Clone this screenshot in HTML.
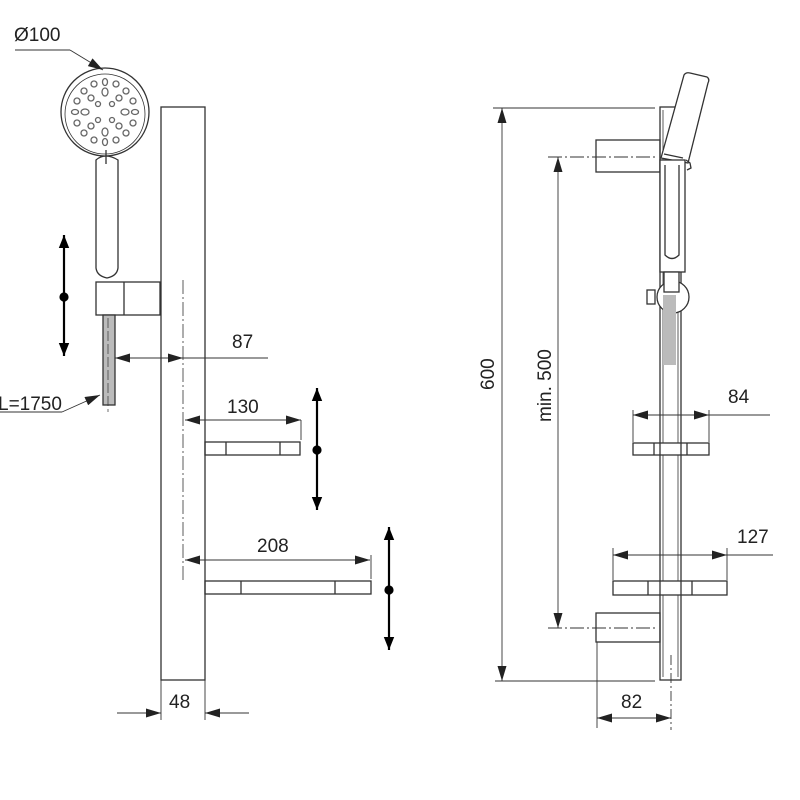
<!DOCTYPE html>
<html><head><meta charset="utf-8"><style>html,body{margin:0;background:#fff}svg{display:block}</style></head><body>
<svg width="800" height="800" viewBox="0 0 800 800" xmlns="http://www.w3.org/2000/svg" font-family="Liberation Sans, sans-serif">
<defs>
<marker id="a" viewBox="0 0 10 6" refX="10" refY="3" markerWidth="16" markerHeight="9" markerUnits="userSpaceOnUse" orient="auto-start-reverse"><path d="M0,0 L10,3 L0,6 z" fill="#222"/></marker>
<marker id="b" viewBox="0 0 10 8" refX="10" refY="4" markerWidth="13" markerHeight="12" markerUnits="userSpaceOnUse" orient="auto-start-reverse"><path d="M0,0 L10,4 L0,8 z" fill="#000"/></marker>
</defs>
<g fill="none" stroke="#333" stroke-width="1.3">
<rect x="161" y="107" width="44" height="573"/>
<line x1="183" y1="280" x2="183" y2="580" stroke-dasharray="14,3,2,3" stroke-width="0.8"/>
<rect x="205" y="442" width="95" height="13"/><line x1="226" y1="442" x2="226" y2="455"/><line x1="280" y1="442" x2="280" y2="455"/>
<rect x="205" y="581" width="166" height="13"/><line x1="241" y1="581" x2="241" y2="594"/><line x1="335" y1="581" x2="335" y2="594"/>
<circle cx="105" cy="112" r="44"/><circle cx="105" cy="114" r="40" stroke-width="0.8"/>
<path d="M96,160 Q105,152 118,160 L118,268 Q117,276 107,278 Q97,276 96,268 Z"/>
<line x1="106" y1="150" x2="106" y2="164"/>
<rect x="96" y="282" width="64" height="33"/><line x1="124" y1="282" x2="124" y2="315"/>
<rect x="103" y="315" width="12" height="90" fill="#bbb"/>
<line x1="108" y1="318" x2="108" y2="412" stroke-dasharray="10,3" stroke-width="0.7"/>
</g>
<g fill="none" stroke="#666" stroke-width="1.3">
<ellipse cx="105" cy="92" rx="3" ry="4"/><ellipse cx="105" cy="132" rx="3" ry="4"/><ellipse cx="85" cy="112" rx="4" ry="3"/><ellipse cx="125" cy="112" rx="4" ry="3"/>
<ellipse cx="91" cy="98" rx="3" ry="3"/><ellipse cx="119" cy="98" rx="3" ry="3"/><ellipse cx="91" cy="126" rx="3" ry="3"/><ellipse cx="119" cy="126" rx="3" ry="3"/>
<ellipse cx="105" cy="82" rx="2.5" ry="3.5"/><ellipse cx="105" cy="142" rx="2.5" ry="3.5"/><ellipse cx="75" cy="112" rx="3.5" ry="2.5"/><ellipse cx="135" cy="112" rx="3.5" ry="2.5"/>
<ellipse cx="84" cy="91" rx="3" ry="3"/><ellipse cx="126" cy="91" rx="3" ry="3"/><ellipse cx="84" cy="133" rx="3" ry="3"/><ellipse cx="126" cy="133" rx="3" ry="3"/>
<ellipse cx="94" cy="84" rx="3" ry="3"/><ellipse cx="116" cy="84" rx="3" ry="3"/><ellipse cx="94" cy="140" rx="3" ry="3"/><ellipse cx="116" cy="140" rx="3" ry="3"/>
<ellipse cx="77" cy="101" rx="3" ry="3"/><ellipse cx="133" cy="101" rx="3" ry="3"/><ellipse cx="77" cy="123" rx="3" ry="3"/><ellipse cx="133" cy="123" rx="3" ry="3"/>
<ellipse cx="98" cy="104" rx="2.5" ry="2.5"/><ellipse cx="112" cy="104" rx="2.5" ry="2.5"/><ellipse cx="98" cy="120" rx="2.5" ry="2.5"/><ellipse cx="112" cy="120" rx="2.5" ry="2.5"/>
</g>
<g stroke="#333" stroke-width="0.9" fill="none">
<line x1="15" y1="50" x2="70" y2="50"/><line x1="70" y1="50" x2="103" y2="70" marker-end="url(#a)"/>
<line x1="0" y1="412" x2="62" y2="412"/><line x1="62" y1="412" x2="100" y2="395" marker-end="url(#a)"/>
<line x1="115" y1="358" x2="183" y2="358" marker-start="url(#a)" marker-end="url(#a)"/><line x1="183" y1="358" x2="268" y2="358"/>
<line x1="185" y1="420" x2="301" y2="420" marker-start="url(#a)" marker-end="url(#a)"/><line x1="301" y1="420" x2="301" y2="440"/>
<line x1="185" y1="560" x2="370" y2="560" marker-start="url(#a)" marker-end="url(#a)"/><line x1="371" y1="555" x2="371" y2="579"/>
<line x1="161" y1="680" x2="161" y2="720"/><line x1="205" y1="680" x2="205" y2="720"/>
<line x1="117" y1="713" x2="161" y2="713" marker-end="url(#a)"/><line x1="249" y1="713" x2="205" y2="713" marker-end="url(#a)"/>
</g>
<g stroke="#000" stroke-width="2.2" fill="#000">
<line x1="64" y1="297" x2="64" y2="235" marker-end="url(#b)"/><line x1="64" y1="297" x2="64" y2="356" marker-end="url(#b)"/><circle cx="64" cy="297" r="3.5"/>
<line x1="317" y1="450" x2="317" y2="388" marker-end="url(#b)"/><line x1="317" y1="450" x2="317" y2="510" marker-end="url(#b)"/><circle cx="317" cy="450" r="3.5"/>
<line x1="389" y1="590" x2="389" y2="527" marker-end="url(#b)"/><line x1="389" y1="590" x2="389" y2="650" marker-end="url(#b)"/><circle cx="389" cy="590" r="3.5"/>
</g>
<g fill="none" stroke="#333" stroke-width="1.3">
<rect x="660" y="107" width="21" height="573"/><line x1="663" y1="110" x2="663" y2="677" stroke-width="0.8"/><line x1="678" y1="110" x2="678" y2="677" stroke-width="0.8"/>
<rect x="596" y="140" width="64" height="32"/>
<rect x="596" y="613" width="64" height="29"/>
<path d="M661,158 L684,75 Q686,72 690,73 L707,77 Q710,79 708,83 L688,163 Z" fill="#fff"/>
<line x1="664" y1="154" x2="683" y2="158"/>
<path d="M686,160 L690,163 L691,168 L687,170"/>
<rect x="660" y="160" width="25" height="112" fill="#fff"/><path d="M665,165 L665,255 Q672,262 679,255 L679,165"/>
<circle cx="673" cy="297" r="16" fill="#fff"/><rect x="647" y="290" width="8" height="14"/>
<rect x="664" y="272" width="15" height="20" fill="#fff"/>
<rect x="663" y="295" width="13" height="70" fill="#bbb" stroke="none"/>
<rect x="633" y="443" width="76" height="12" fill="#fff"/><line x1="654" y1="443" x2="654" y2="455"/><line x1="687" y1="443" x2="687" y2="455"/>
<rect x="613" y="581" width="114" height="14" fill="#fff"/><line x1="648" y1="581" x2="648" y2="595"/><line x1="692" y1="581" x2="692" y2="595"/>
<line x1="660" y1="443" x2="660" y2="455"/><line x1="681" y1="443" x2="681" y2="455"/>
<line x1="660" y1="581" x2="660" y2="595"/><line x1="681" y1="581" x2="681" y2="595"/>
</g>
<g stroke="#333" stroke-width="0.9" fill="none">
<line x1="493" y1="108" x2="655" y2="108"/><line x1="495" y1="681" x2="655" y2="681"/>
<line x1="502" y1="108" x2="502" y2="681" marker-start="url(#a)" marker-end="url(#a)"/>
<line x1="548" y1="157" x2="655" y2="157" stroke-dasharray="14,3,2,3"/><line x1="548" y1="628" x2="655" y2="628" stroke-dasharray="14,3,2,3"/>
<line x1="558" y1="157" x2="558" y2="628" marker-start="url(#a)" marker-end="url(#a)"/>
<line x1="633" y1="415" x2="709" y2="415" marker-start="url(#a)" marker-end="url(#a)"/><line x1="709" y1="415" x2="770" y2="415"/>
<line x1="633" y1="410" x2="633" y2="442"/><line x1="709" y1="410" x2="709" y2="442"/>
<line x1="613" y1="555" x2="727" y2="555" marker-start="url(#a)" marker-end="url(#a)"/><line x1="727" y1="555" x2="773" y2="555"/>
<line x1="613" y1="548" x2="613" y2="580"/><line x1="727" y1="548" x2="727" y2="580"/>
<line x1="597" y1="642" x2="597" y2="728"/><line x1="671" y1="655" x2="671" y2="730" stroke-dasharray="10,3,2,3"/>
<line x1="597" y1="718" x2="671" y2="718" marker-start="url(#a)" marker-end="url(#a)"/>
</g>
<g fill="#222" font-size="19">
<text x="14" y="41">Ø100</text>
<text x="-2" y="410">L=1750</text>
<text x="232" y="348">87</text>
<text x="227" y="413">130</text>
<text x="257" y="552">208</text>
<text x="169" y="708">48</text>
<text x="728" y="403">84</text>
<text x="737" y="543">127</text>
<text x="621" y="708">82</text>
<text transform="translate(494,390) rotate(-90)">600</text>
<text transform="translate(551,422) rotate(-90)">min. 500</text>
</g>
</svg>
</body></html>
